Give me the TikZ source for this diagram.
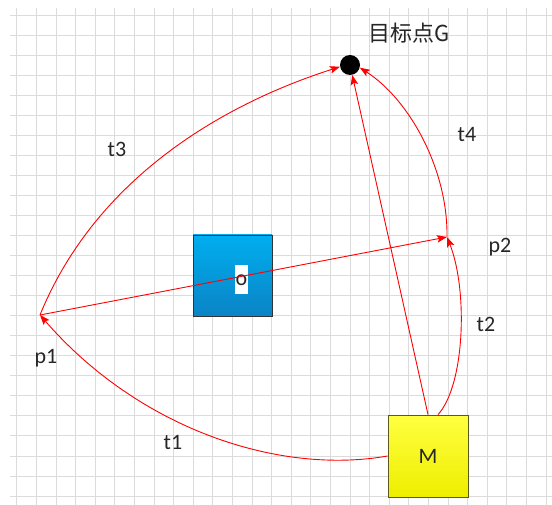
\documentclass[tikz,border=0pt]{standalone}
\usepackage{fontspec}
\setmainfont{Carlito}
\newfontfamily\cjkfont{Noto Sans CJK SC}
\usetikzlibrary{arrows.meta}

\definecolor{otop}{HTML}{00AEEF}
\definecolor{obot}{HTML}{0A84C6}
\definecolor{mtop}{HTML}{FFFF40}
\definecolor{mbot}{HTML}{EEEE00}
\definecolor{mline}{HTML}{5A5A1E}

\begin{document}
\begin{tikzpicture}[x=1pt,y=-1pt,
    move/.style={red,line width=0.9pt,-{Stealth[length=10pt,width=7.5pt,inset=2pt]}},
    lbl/.style={font=\fontsize{22}{26}\selectfont,text=black!85,inner sep=0pt},
    ]
    \useasboundingbox (0,0) rectangle (552,505);

    % Draw grid
    \foreach \i in {0,...,27}
      \draw[gray!28,line width=0.7pt] ({16.7+19.6*\i},8) -- ({16.7+19.6*\i},505);
    \foreach \j in {0,...,24}
      \draw[gray!28,line width=0.7pt] (10,{15+20.04*\j}) -- (552,{15+20.04*\j});

    % Obstacle and robot
    \node[draw=black!80,line width=0.8pt,minimum width=79pt,minimum height=81pt,
          top color=otop,bottom color=obot] (obox) at (232.5,275.5) {};
    \node[lbl,fill=white,minimum width=13pt,minimum height=29pt] (olbl) at (241.5,280) {o};
    \node[lbl,draw=mline,line width=0.8pt,minimum width=80pt,minimum height=82pt,
          top color=mtop,bottom color=mbot] (mbox) at (428,456) {M};

    % Goal
    \node[circle,fill=black,minimum size=20pt,inner sep=0pt] (G) at (350,65) {};
    \node[lbl,font=\cjkfont\fontsize{22}{26}\selectfont] (glbl) at (409,33) {目标点G};

    \coordinate (p1) at (40,315);
    \coordinate (p2) at (447,237);

    % Draw paths
    \draw[move] (mbox.west) .. controls (280,475) and (140,430) .. (p1);
    \draw[move] (p1) .. controls (95,180) and (220,105) .. (G.190);
    \draw[move] (p1) -- (p2);
    \draw[move] (mbox.north) -- (G);
    \draw[move] ([xshift=10pt]mbox.north) .. controls (465,385) and (468,290) .. (p2);
    \draw[move] (p2) .. controls (448,170) and (410,100) .. (G.-15);

    % Label paths
    \node[lbl] (t1) at (173,443) {t1};
    \node[lbl] (t2) at (486,324) {t2};
    \node[lbl] (t3) at (117,149) {t3};
    \node[lbl] (t4) at (467,135) {t4};
    \node[lbl] (p1lbl) at (46,358) {p1};
    \node[lbl] (p2lbl) at (500,247) {p2};
\end{tikzpicture}
\end{document}
